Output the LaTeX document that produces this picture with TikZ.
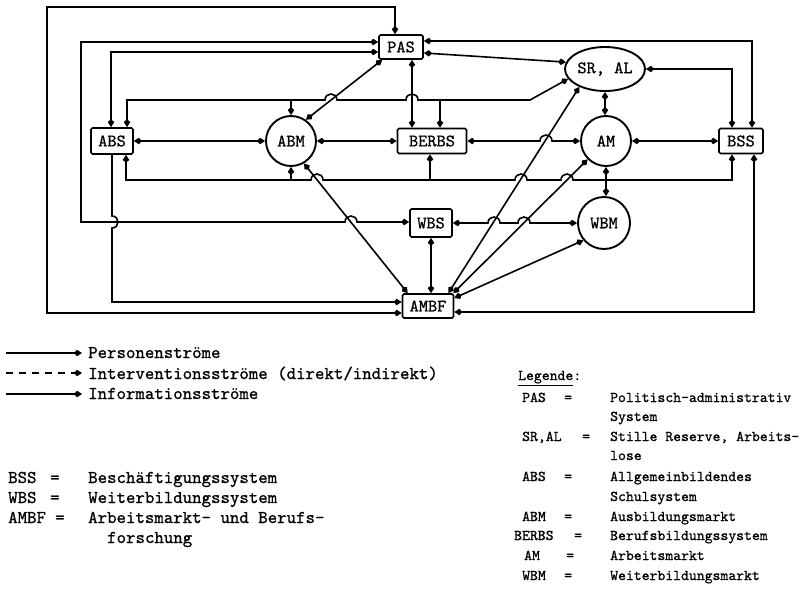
\documentclass[tikz,border=0pt]{standalone}
\usepackage{fontspec}
\newfontfamily\tyf{lmmono10-regular.otf}[FakeBold=0.9]
\usetikzlibrary{arrows.meta,shapes.geometric,calc}
\begin{document}
\begin{tikzpicture}[x=1pt,y=-1pt,
  >={Kite[length=8pt,width=6.5pt,inset=3pt]},
  conn/.style={line width=1.6pt,<->},
  one/.style={line width=1.6pt,->},
  lab/.style={font={\tyf\fontsize{17.5}{18}\selectfont}},
  box/.style={lab,draw,line width=1.7pt,rounded corners=1.5pt,inner sep=0pt},
  circ/.style={lab,draw,circle,line width=1.9pt,inner sep=0pt},
  ell/.style={lab,draw,ellipse,line width=1.9pt,inner sep=0pt},
  leg/.style={anchor=base west,inner sep=0pt,font={\tyf\fontsize{18}{18}\selectfont}},
  legr/.style={anchor=base west,inner sep=0pt,font={\tyf\fontsize{15}{15}\selectfont}}]
\useasboundingbox (0,0) rectangle (801,595);
% nodes
\node[box,minimum width=44pt,minimum height=24pt] (PAS) at (401,47) {PAS};
\node[ell,minimum width=80pt,minimum height=44pt] (SRAL) at (605,69) {SR, AL};
\node[box,minimum width=42pt,minimum height=26pt] (ABS) at (112,141) {ABS};
\node[circ,minimum size=50pt] (ABM) at (291,141) {ABM};
\node[box,minimum width=69pt,minimum height=25pt] (BERBS) at (432,141) {BERBS};
\node[circ,minimum size=50pt] (AM) at (606,141) {AM};
\node[box,minimum width=44pt,minimum height=25pt] (BSS) at (741,141) {BSS};
\node[box,minimum width=42pt,minimum height=28pt] (WBS) at (431,223) {WBS};
\node[circ,minimum size=52pt] (WBM) at (604,223) {WBM};
\node[box,minimum width=51pt,minimum height=24pt] (AMBF) at (428,306) {AMBF};
% outer loop
\draw[conn] (AMBF.west |- 0,313) -- (47,313) -- (47,7) -- (395,7) -- (PAS.north -| 395,0);
% PAS - WBS
\draw[conn] (PAS.west |- 0,42) -- (81,42) -- (81,222) -- (345,222) .. controls (345,214) and (357,214) .. (357,222) -- (WBS.west |- 0,222);
% PAS - ABS
\draw[conn] (PAS.west |- 0,52) -- (111,52) -- (ABS.north -| 111,0);
% upper distribution line
\draw[conn] (ABS.north -| 127,0) -- (127,100) -- (325,100) .. controls (325,92) and (337,92) .. (337,100) -- (406,100) .. controls (406,92) and (418,92) .. (418,100) -- (530,100) -- (SRAL.195);
\draw[one] (ABM.north |- 0,100) -- (ABM.north);
\draw[one] (440,100) -- (BERBS.north -| 440,0);
% PAS links
\draw[conn] ([xshift=4pt]PAS.south west) -- (ABM.55);
\draw[conn] (PAS.south -| 412,0) -- (BERBS.north -| 412,0);
\draw[conn] (PAS.east |- 0,41) -- (752,41) -- (BSS.north -| 752,0);
\draw[conn] (PAS.east |- 0,53) -- (SRAL.170);
% SR,AL links
\draw[conn] (SRAL.east) -- (732,69) -- (BSS.north -| 732,0);
\draw[conn] (SRAL.south) -- (AM.north -| SRAL.south);
% middle row
\draw[conn] (ABS.east) -- (ABM.west);
\draw[conn] (ABM.east) -- (BERBS.west);
\draw[conn] (BERBS.east) -- (540,141) .. controls (540,133) and (552,133) .. (552,141) -- (AM.west);
\draw[conn] (AM.east) -- (BSS.west);
% lower distribution line
\draw[conn] (ABS.south -| 126,0) -- (126,180) -- (311,180) .. controls (311,172) and (323,172) .. (323,180) -- (515,180) .. controls (515,172) and (527,172) .. (527,180) -- (561,180) .. controls (561,172) and (573,172) .. (573,180) -- (732,180) -- (BSS.south -| 732,0);
\draw[one] (ABM.south |- 0,180) -- (ABM.south);
\draw[one] (430,180) -- (BERBS.south -| 430,0);
% ABM - AMBF
\draw[conn] (ABM.-60) -- ([xshift=6pt]AMBF.north west);
% ABS - AMBF
\draw[one] (ABS.south) -- (112,216) .. controls (120,216) and (120,228) .. (112,228) -- (112,302) -- (AMBF.west |- 0,302);
% BSS - AMBF
\draw[conn] (BSS.south -| 754,0) -- (754,312) -- (AMBF.east |- 0,312);
% WBS - WBM
\draw[conn] (WBS.east) -- (488,223) .. controls (488,215) and (500,215) .. (500,223) -- (518,223) .. controls (518,215) and (530,215) .. (530,223) -- (WBM.west);
\draw[conn] (WBS.south) -- (AMBF.north -| WBS.south);
\draw[conn] (AM.south) -- (WBM.north -| AM.south);
% AMBF diagonals
\draw[conn] ([xshift=-6pt]AMBF.north east) -- (SRAL.215);
\draw[conn] ([xshift=-1pt]AMBF.north east) -- (AM.225);
\draw[conn] (AMBF.east |- 0,298) -- (WBM.220);
% legend lines
\coordinate (l1a) at (6,353); \coordinate (l1b) at (82,353);
\coordinate (l2a) at (6,373); \coordinate (l2b) at (82,373);
\coordinate (l3a) at (6,394); \coordinate (l3b) at (82,394);
\draw[one] (l1a) -- (l1b);
\draw[one,dash pattern=on 7pt off 6pt] (l2a) -- (l2b);
\draw[one] (l3a) -- (l3b);
\node[leg] (t1) at (88,358) {Personenströme};
\node[leg] (t2) at (88,379) {Interventionsströme (direkt/indirekt)};
\node[leg] (t3) at (88,399) {Informationsströme};
\node[leg] (a1) at (8,483) {BSS};
\node[leg] (e1) at (50,483) {=};
\node[leg] (d1) at (88,483) {Beschäftigungssystem};
\node[leg] (a2) at (8,503) {WBS};
\node[leg] (e2) at (50,503) {=};
\node[leg] (d2) at (88,503) {Weiterbildungssystem};
\node[leg] (a3) at (8,523) {AMBF};
\node[leg] (e3) at (55,523) {=};
\node[leg] (d3) at (88,523) {Arbeitsmarkt- und Berufs-};
\node[leg] (d3b) at (107,543) {forschung};
% right legend
\node[legr] (lg) at (518,380) {\underline{Legende}:};
\node[legr] (r1) at (522,402) {PAS};
\node[legr] (q1) at (564,402) {=};
\node[legr] (s1) at (610,402) {Politisch-administrativ};
\node[legr] (s1b) at (610,421) {System};
\node[legr] (r2) at (522,441) {SR,AL};
\node[legr] (q2) at (582,441) {=};
\node[legr] (s2) at (610,441) {Stille Reserve, Arbeits-};
\node[legr] (s2b) at (610,460) {lose};
\node[legr] (r3) at (522,481) {ABS};
\node[legr] (q3) at (564,481) {=};
\node[legr] (s3) at (610,481) {Allgemeinbildendes};
\node[legr] (s3b) at (610,501) {Schulsystem};
\node[legr] (r4) at (522,521) {ABM};
\node[legr] (q4) at (564,521) {=};
\node[legr] (s4) at (610,521) {Ausbildungsmarkt};
\node[legr] (r5) at (514,540) {BERBS};
\node[legr] (q5) at (574,540) {=};
\node[legr] (s5) at (610,540) {Berufsbildungssystem};
\node[legr] (r6) at (524,560) {AM};
\node[legr] (q6) at (566,560) {=};
\node[legr] (s6) at (610,560) {Arbeitsmarkt};
\node[legr] (r7) at (522,580) {WBM};
\node[legr] (q7) at (564,580) {=};
\node[legr] (s7) at (610,580) {Weiterbildungsmarkt};
\end{tikzpicture}
\end{document}
